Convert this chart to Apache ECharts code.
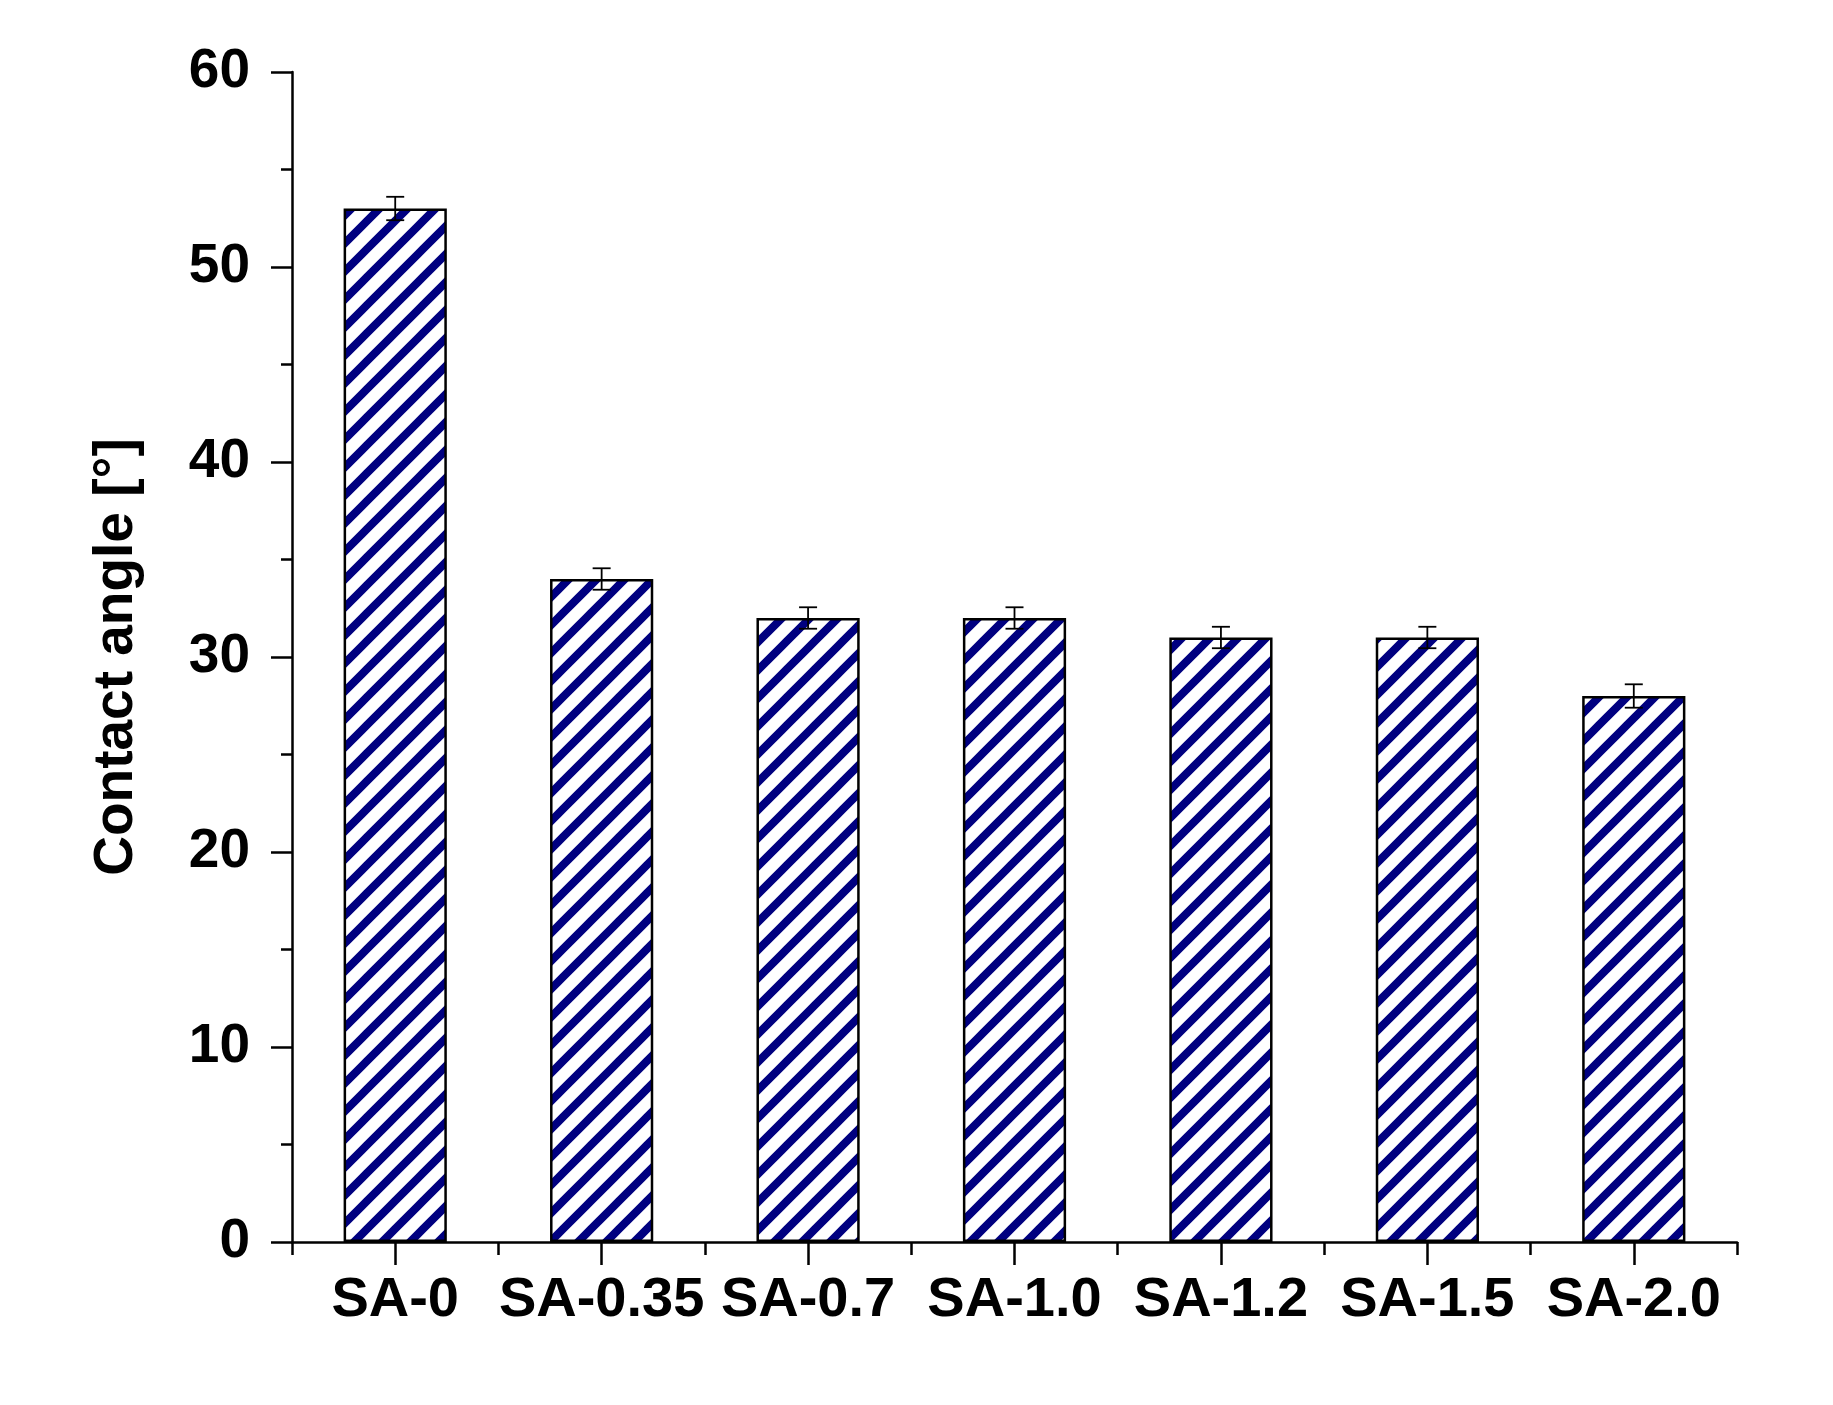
<!DOCTYPE html>
<html>
<head>
<meta charset="utf-8">
<script src="https://cdn.jsdelivr.net/npm/echarts@6/dist/echarts.min.js"></script>
<style>
  html, body { margin: 0; padding: 0; background: #fff; }
  #chart { width: 1833px; height: 1405px; }
</style>
</head>
<body>
<div id="chart"></div>
<script>
const categories = ['SA-0', 'SA-0.35', 'SA-0.7', 'SA-1.0', 'SA-1.2', 'SA-1.5', 'SA-2.0'];
const contactAngle = [53, 34, 32, 32, 31, 31, 28];
const angleError = [0.6, 0.55, 0.55, 0.55, 0.55, 0.55, 0.6];

// diagonal hatch tile for the bars
function hatchTile() {
  const size = 28;
  const c = document.createElement('canvas');
  c.width = size;
  c.height = size;
  const ctx = c.getContext('2d');
  ctx.fillStyle = '#fff';
  ctx.fillRect(0, 0, size, size);
  ctx.strokeStyle = '#000080';
  ctx.lineWidth = 8;
  ctx.lineCap = 'square';
  ctx.beginPath();
  ctx.moveTo(-4, size + 4); ctx.lineTo(size + 4, -4);
  ctx.moveTo(-4, 4); ctx.lineTo(4, -4);
  ctx.moveTo(size - 4, size + 4); ctx.lineTo(size + 4, size - 4);
  ctx.stroke();
  return c;
}

const chartDom = document.getElementById('chart');
const myChart = echarts.init(chartDom);

const labelFont = {
  fontFamily: 'Liberation Sans, Arial, sans-serif',
  fontWeight: 'bold',
  color: '#000'
};

const option = {
  backgroundColor: '#fff',
  animation: false,
  grid: {
    left: 292,
    right: 96,
    top: 72,
    bottom: 163
  },
  xAxis: [
    {
      type: 'category',
      data: categories,
      boundaryGap: true,
      axisLine: { lineStyle: { color: '#000', width: 2.5 } },
      axisTick: { show: true, alignWithLabel: true, length: 23, lineStyle: { color: '#000', width: 2.5 } },
      axisLabel: Object.assign({ fontSize: 56, margin: 31, interval: 0 }, labelFont),
      splitLine: { show: false }
    },
    {
      type: 'category',
      data: categories,
      position: 'bottom',
      boundaryGap: true,
      axisLine: { show: false },
      axisTick: { show: true, alignWithLabel: false, length: 13, lineStyle: { color: '#000', width: 2.5 } },
      axisLabel: { show: false },
      splitLine: { show: false }
    }
  ],
  yAxis: {
    type: 'value',
    min: 0,
    max: 60,
    interval: 10,
    name: 'Contact angle [°]',
    nameLocation: 'middle',
    nameGap: 148,
    nameTextStyle: Object.assign({ fontSize: 55 }, labelFont),
    axisLine: { show: true, lineStyle: { color: '#000', width: 2.5 } },
    axisTick: { show: true, length: 21, lineStyle: { color: '#000', width: 2.5 } },
    minorTick: { show: true, splitNumber: 2, length: 11, lineStyle: { color: '#000', width: 2.5 } },
    axisLabel: Object.assign({ fontSize: 55, margin: 42 }, labelFont),
    splitLine: { show: false }
  },
  series: [
    {
      type: 'bar',
      data: contactAngle,
      barWidth: '50%',
      itemStyle: {
        color: { image: hatchTile(), repeat: 'repeat' },
        borderColor: '#000',
        borderWidth: 2.5
      }
    },
    {
      type: 'custom',
      data: contactAngle.map((v, i) => [i, v, angleError[i]]),
      z: 10,
      renderItem: function (params, api) {
        const idx = api.value(0);
        const top = api.coord([idx, api.value(1) + api.value(2)]);
        const bottom = api.coord([idx, api.value(1) - api.value(2)]);
        const half = 9;
        const style = { stroke: '#000', lineWidth: 1.8 };
        return {
          type: 'group',
          children: [
            { type: 'line', shape: { x1: top[0], y1: top[1], x2: bottom[0], y2: bottom[1] }, style: style },
            { type: 'line', shape: { x1: top[0] - half, y1: top[1], x2: top[0] + half, y2: top[1] }, style: style },
            { type: 'line', shape: { x1: bottom[0] - half, y1: bottom[1], x2: bottom[0] + half, y2: bottom[1] }, style: style }
          ]
        };
      }
    }
  ]
};

option && myChart.setOption(option);
</script>
</body>
</html>
